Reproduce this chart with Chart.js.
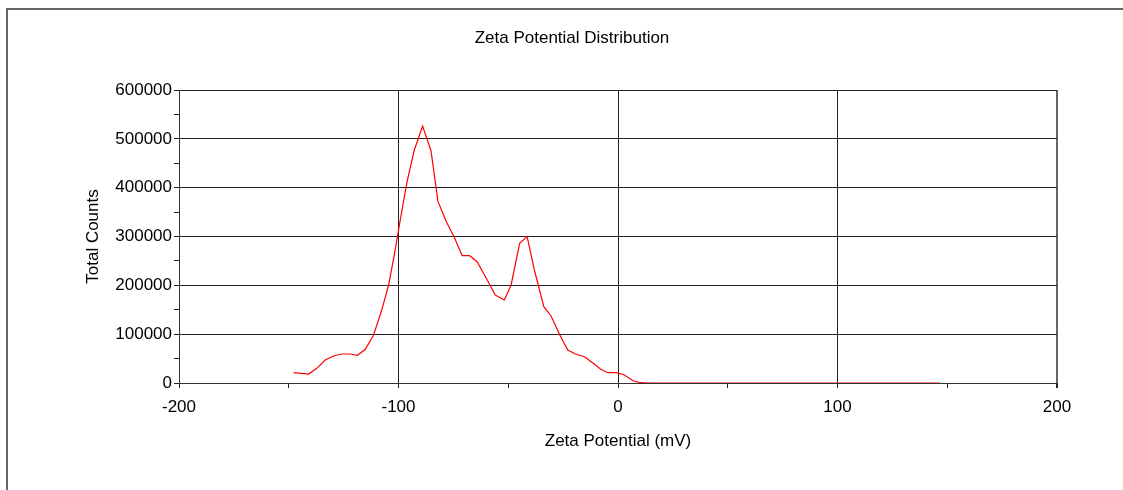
<!DOCTYPE html>
<html>
<head>
<meta charset="utf-8">
<script src="https://cdn.jsdelivr.net/npm/chart.js@4"></script>
<style>
  html, body { margin: 0; padding: 0; background: #fff; }
  #wrap { width: 1123px; height: 490px; }
</style>
</head>
<body>
<div id="wrap"><canvas id="zetaChart" width="1123" height="490"></canvas></div>
<script>
// zeta potential (mV) and total counts
const zetaMv = [
  -147.8, -141.0, -137.2, -133.4, -129.6, -125.8, -122.0, -118.7, -115.1, -111.4,
  -107.8, -104.5, -101.5, -99.2, -96.1, -92.8, -89.0, -85.2, -82.0, -78.2,
  -74.6, -71.0, -67.6, -64.2, -60.0, -55.9, -51.8, -48.7, -44.8, -41.4,
  -38.1, -33.8, -30.5, -26.5, -22.9, -19.4, -15.3, -11.3, -8.0, -4.7,
  -0.7, 2.9, 6.9, 10.2, 14, 30, 50, 70, 90, 110, 130, 146.5
]
const totalCounts = [
  21100, 18400, 30100, 47100, 55300, 59400, 59400, 56700, 69000, 97700,
  146800, 200700, 272400, 333800, 412200, 477100, 526300, 475700, 371300, 330300,
  298400, 260700, 260700, 248400, 214400, 180200, 170000, 200700, 286100, 299700,
  231400, 156200, 137200, 98300, 67600, 59400, 53900, 40300, 28700, 21100,
  21100, 16400, 4700, 600, 0, 0, 0, 0, 0, 0, 0, 0
]

const xMin = -200, xMax = 200, xStep = 50
const yMin = 0, yMax = 600000, yStep = 50000

const fontFamily = "'Liberation Sans', Arial, sans-serif"
const points = zetaMv.map((x, i) => ({ x: x, y: totalCounts[i] }))

// grey frame on the top and left edges of the figure
const framePlugin = {
  id: 'frame',
  afterDraw(chart) {
    const ctx = chart.ctx
    ctx.save()
    ctx.strokeStyle = '#666'
    ctx.lineWidth = 2
    ctx.beginPath()
    ctx.moveTo(7, chart.height)
    ctx.lineTo(7, 9)
    ctx.lineTo(chart.width, 9)
    ctx.stroke()
    ctx.restore()
  }
}

const isMajorX = c => c.tick && c.tick.value % 100 === 0

new Chart(document.getElementById('zetaChart'), {
  type: 'line',
  data: {
    datasets: [{
      data: points,
      yAxisID: 'y',
      borderColor: '#ff0000',
      borderWidth: 1.2,
      pointRadius: 0,
      fill: false,
      tension: 0
    }]
  },
  options: {
    responsive: false,
    animation: false,
    layout: { padding: { left: 21, right: 0, top: 0, bottom: 0 } },
    plugins: {
      legend: { display: false },
      tooltip: { enabled: false },
      title: {
        display: true,
        text: 'Zeta Potential Distribution',
        color: '#000',
        font: { family: fontFamily, size: 17, weight: 'normal' },
        padding: { top: 28.6, bottom: 41 }
      }
    },
    scales: {
      x: {
        type: 'linear',
        min: xMin,
        max: xMax,
        afterFit(scale) { scale.height = 107 },
        ticks: {
          stepSize: xStep,
          autoSkip: false,
          maxRotation: 0,
          padding: 9,
          color: '#000',
          font: { family: fontFamily, size: 17 },
          callback: v => (v % 100 === 0 ? String(v) : '')
        },
        grid: {
          color: c => (isMajorX(c) ? (c.tick.value === xMax ? '#666' : '#222') : 'rgba(0,0,0,0)'),
          lineWidth: c => (c.tick && c.tick.value === xMax ? 2 : 1),
          tickColor: '#222',
          tickLength: 5
        },
        border: { display: true, color: '#333', width: 1 },
        title: {
          display: true,
          text: 'Zeta Potential (mV)',
          color: '#000',
          font: { family: fontFamily, size: 17 },
          padding: { top: 0, bottom: 38.7 }
        }
      },
      y: {
        type: 'linear',
        position: 'left',
        min: yMin,
        max: yMax,
        afterFit(scale) { scale.width = 158 },
        ticks: {
          stepSize: yStep,
          autoSkip: false,
          padding: 2,
          color: '#000',
          font: { family: fontFamily, size: 17 },
          callback: v => (v % 100000 === 0 ? String(v) : '')
        },
        grid: {
          color: c => (c.tick && c.tick.value % 100000 === 0 ? '#222' : 'rgba(0,0,0,0)'),
          tickColor: '#222',
          tickLength: 5,
          lineWidth: 1
        },
        border: { display: true, color: '#333', width: 1 },
        title: {
          display: true,
          text: 'Total Counts',
          color: '#000',
          font: { family: fontFamily, size: 17 },
          padding: { top: 62.6, bottom: 0 }
        }
      },
      // empty right-hand margin so the title centres over the whole figure
      yRight: {
        type: 'linear',
        position: 'right',
        min: yMin,
        max: yMax,
        afterFit(scale) { scale.width = 66 },
        ticks: { display: false },
        grid: { display: false, drawOnChartArea: false },
        border: { display: false }
      }
    }
  },
  plugins: [framePlugin]
})
</script>
</body>
</html>
